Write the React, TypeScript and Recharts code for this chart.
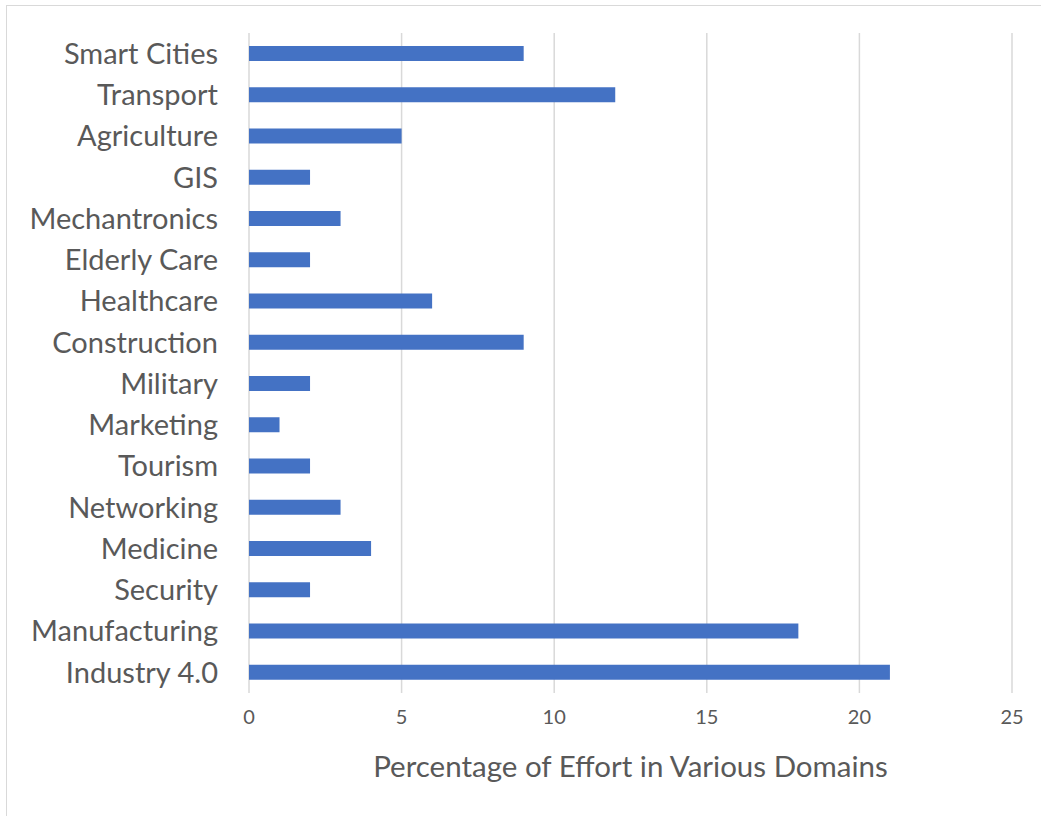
import { Bar, BarChart, CartesianGrid, XAxis, YAxis, Label } from 'recharts'

const domains = [
  'Smart Cities',
  'Transport',
  'Agriculture',
  'GIS',
  'Mechantronics',
  'Elderly Care',
  'Healthcare',
  'Construction',
  'Military',
  'Marketing',
  'Tourism',
  'Networking',
  'Medicine',
  'Security',
  'Manufacturing',
  'Industry 4.0',
]

const effort = [9, 12, 5, 2, 3, 2, 6, 9, 2, 1, 2, 3, 4, 2, 18, 21]

const xTicks = [0, 5, 10, 15, 20, 25]

const data = domains.map((name, i) => ({ name, effort: effort[i] }))

const FONT = 'Lato, "Open Sans", sans-serif'

export default function App(): JSX.Element {
  return (
    <div style={{ position: 'absolute', left: 0, top: 0, width: 1041, height: 816, background: '#fff', overflow: 'hidden' }}>
      <div
        style={{
          position: 'absolute',
          left: 6,
          top: 5,
          width: 1100,
          height: 900,
          border: '1px solid #d9d9d9',
        }}
      />
      <BarChart
        width={1041}
        height={816}
        data={data}
        layout="vertical"
        margin={{ top: 33, right: 29, bottom: 0, left: 0 }}
        barCategoryGap={0}
        style={{ position: 'absolute', left: 0, top: 0 }}
      >
        <CartesianGrid horizontal={false} stroke="#d9d9d9" strokeWidth={1.5} />
        <XAxis
          type="number"
          domain={[0, 25]}
          ticks={xTicks}
          axisLine={false}
          tickLine={false}
          tickMargin={11}
          height={123}
          tick={{ fontSize: 20, fill: '#595959', fontFamily: FONT }}
        >
          <Label
            value="Percentage of Effort in Various Domains"
            position="insideBottom"
            offset={39}
            style={{ fontSize: 29.5, fill: '#595959', fontFamily: FONT }}
          />
        </XAxis>
        <YAxis
          type="category"
          dataKey="name"
          width={249}
          axisLine={false}
          tickLine={false}
          tickMargin={25}
          interval={0}
          tick={{ fontSize: 29, fill: '#595959', fontFamily: FONT }}
        />
        <Bar dataKey="effort" fill="#4472C4" barSize={15} isAnimationActive={false} />
      </BarChart>
    </div>
  )
}
